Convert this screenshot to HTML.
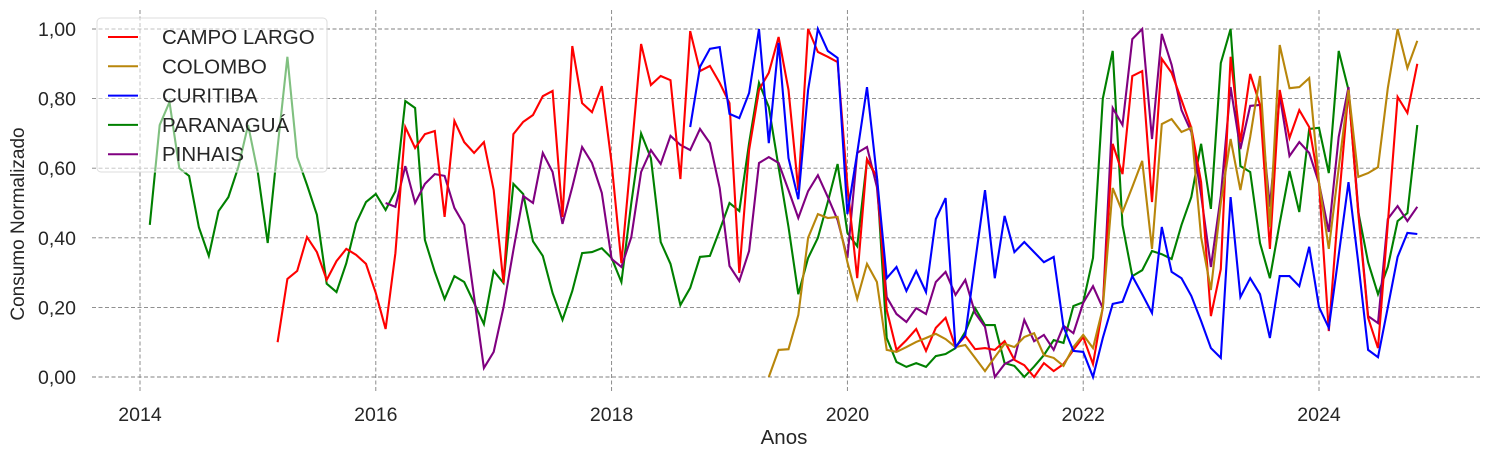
<!DOCTYPE html>
<html><head><meta charset="utf-8"><style>
body{margin:0;background:#fff;font-family:"Liberation Sans",sans-serif}
svg text{font-family:"Liberation Sans",sans-serif;fill:#262626}
</style></head><body>
<svg id="chart" width="1490" height="458" xmlns="http://www.w3.org/2000/svg">
<g id="grid"></g>
<g id="series"></g>
<g id="axes"></g>
<g id="legend"></g>
</svg>
<script>
const yTicks=[0,0.2,0.4,0.6,0.8,1.0];
const yTickLabels=["0,00","0,20","0,40","0,60","0,80","1,00"];
const xTickYears=[2014,2016,2018,2020,2022,2024];
const seriesNames=["CAMPO LARGO","COLOMBO","CURITIBA","PARANAGUÁ","PINHAIS"];
const seriesColors=["#ff0000","#b8860b","#0000ff","#008000","#800080"];
const campoLargoStart=14;
const campoLargo=[0.10,0.282,0.305,0.402,0.359,0.279,0.333,0.368,0.351,0.325,0.241,0.138,0.356,0.718,0.658,0.698,0.707,0.46,0.736,0.675,0.644,0.675,0.537,0.27,0.698,0.733,0.753,0.807,0.822,0.46,0.951,0.787,0.761,0.836,0.615,0.327,0.64,0.957,0.839,0.865,0.853,0.569,0.994,0.879,0.894,0.845,0.787,0.299,0.652,0.825,0.874,0.977,0.825,0.537,1.0,0.934,0.92,0.905,0.55,0.284,0.626,0.575,0.193,0.078,0.106,0.138,0.075,0.141,0.17,0.086,0.118,0.08,0.083,0.078,0.103,0.049,0.034,0,0.04,0.017,0.037,0.078,0.115,0.037,0.2,0.67,0.583,0.865,0.879,0.503,0.914,0.874,0.796,0.716,0.56,0.175,0.31,0.92,0.675,0.871,0.782,0.368,0.825,0.687,0.767,0.718,0.557,0.132,0.5,0.825,0.47,0.17,0.083,0.44,0.805,0.759,0.9];
const colomboStart=64;
const colombo=[0,0.078,0.08,0.178,0.4,0.468,0.457,0.46,0.33,0.224,0.325,0.273,0.078,0.072,0.086,0.101,0.112,0.124,0.109,0.086,0.092,0.055,0.017,0.057,0.095,0.086,0.115,0.126,0.063,0.055,0.032,0.086,0.121,0.083,0.198,0.543,0.474,0.546,0.621,0.368,0.727,0.741,0.704,0.716,0.402,0.25,0.5,0.684,0.537,0.69,0.865,0.431,0.954,0.83,0.833,0.859,0.56,0.368,0.6,0.825,0.575,0.586,0.603,0.83,1.0,0.888,0.966];
const curitibaStart=56;
const curitiba=[0.718,0.891,0.943,0.948,0.756,0.744,0.816,1.0,0.672,0.96,0.629,0.511,0.825,1.0,0.937,0.917,0.468,0.644,0.833,0.575,0.284,0.316,0.247,0.305,0.244,0.454,0.514,0.086,0.121,0.33,0.537,0.284,0.463,0.359,0.388,0.359,0.33,0.345,0.144,0.075,0.072,0,0.112,0.21,0.216,0.29,0.238,0.184,0.431,0.302,0.284,0.233,0.161,0.083,0.055,0.517,0.23,0.284,0.238,0.112,0.29,0.29,0.261,0.374,0.201,0.141,0.35,0.56,0.328,0.078,0.057,0.2,0.345,0.414,0.411];
const paranaguaStart=1;
const paranagua=[0.437,0.724,0.79,0.60,0.578,0.43,0.348,0.477,0.517,0.603,0.724,0.586,0.385,0.66,0.92,0.632,0.552,0.466,0.268,0.244,0.327,0.442,0.503,0.526,0.48,0.534,0.793,0.773,0.394,0.302,0.224,0.29,0.273,0.213,0.152,0.305,0.27,0.555,0.526,0.39,0.348,0.241,0.164,0.247,0.356,0.359,0.37,0.342,0.273,0.5,0.70,0.629,0.388,0.325,0.207,0.256,0.345,0.348,0.422,0.5,0.477,0.672,0.845,0.776,0.603,0.431,0.238,0.342,0.40,0.503,0.612,0.414,0.376,0.624,0.572,0.112,0.043,0.029,0.04,0.029,0.06,0.066,0.083,0.13,0.198,0.149,0.149,0.04,0.032,0,0.03,0.063,0.106,0.098,0.204,0.215,0.342,0.80,0.937,0.437,0.29,0.307,0.362,0.353,0.339,0.437,0.517,0.67,0.483,0.902,1.0,0.606,0.589,0.385,0.284,0.442,0.592,0.474,0.713,0.716,0.586,0.937,0.825,0.474,0.33,0.238,0.316,0.448,0.471,0.724];
const pinhaisStart=25;
const pinhais=[0.5,0.489,0.606,0.5,0.555,0.583,0.578,0.486,0.437,0.23,0.026,0.072,0.2,0.365,0.52,0.5,0.644,0.589,0.44,0.546,0.661,0.615,0.529,0.339,0.316,0.402,0.589,0.652,0.612,0.693,0.667,0.652,0.713,0.672,0.543,0.319,0.276,0.362,0.615,0.632,0.615,0.537,0.457,0.534,0.58,0.517,0.451,0.342,0.644,0.661,0.546,0.23,0.181,0.158,0.198,0.181,0.273,0.302,0.236,0.279,0.184,0.144,0,0.037,0.052,0.164,0.103,0.121,0.078,0.147,0.126,0.213,0.261,0.198,0.773,0.724,0.971,1.0,0.684,0.986,0.897,0.767,0.704,0.523,0.316,0.52,0.833,0.655,0.779,0.782,0.489,0.81,0.635,0.675,0.644,0.557,0.417,0.69,0.833,0.48,0.175,0.155,0.454,0.491,0.448,0.489];

const NS="http://www.w3.org/2000/svg";
const L=92,R=1480,T=10,B=393;
function xScale(m){return 140+m*(1319-140)/120;}
function yScale(v){return 377-v*348;}
function mk(tag,attrs,parent){const e=document.createElementNS(NS,tag);for(const k in attrs)e.setAttribute(k,attrs[k]);parent.appendChild(e);return e;}
const grid=document.getElementById('grid'),axes=document.getElementById('axes'),ser=document.getElementById('series'),leg=document.getElementById('legend');
yTicks.forEach((t,i)=>{
  const y=yScale(t);
  const ln=mk('line',{x1:L,x2:R,y1:y,y2:y,stroke:'#808080','stroke-width':0.9,'stroke-dasharray':'4,2.5'},grid);
  
  
  const tx=mk('text',{x:76,y:y+7,'text-anchor':'end','font-size':19.5},axes);
  tx.textContent=yTickLabels[i];
  
  
});
xTickYears.forEach(yr=>{
  const x=xScale((yr-2014)*12);
  const ln=mk('line',{x1:x,x2:x,y1:T,y2:B,stroke:'#808080','stroke-width':0.9,'stroke-dasharray':'4,2.5'},grid);
  
  
  const tx=mk('text',{x:x,y:421,'text-anchor':'middle','font-size':19.5},axes);
  tx.textContent=yr;
  
  
});
const xt=mk('text',{x:784,y:444,'text-anchor':'middle','font-size':20.5},axes);
xt.textContent='Anos';


const yt=mk('text',{x:0,y:0,'text-anchor':'middle','font-size':19,transform:'translate(24,224) rotate(-90)'},axes);
yt.textContent='Consumo Normalizado';



const all=[[campoLargoStart,campoLargo],[colomboStart,colombo],[curitibaStart,curitiba],[paranaguaStart,paranagua],[pinhaisStart,pinhais]];
const order=[3,4,0,1,2];
order.forEach(si=>{
  const [st,vals]=all[si];
  const pts=vals.map((v,i)=>xScale(st+i).toFixed(1)+','+yScale(v).toFixed(1)).join(' ');
  const pl=mk('polyline',{points:pts,fill:'none',stroke:seriesColors[si],'stroke-width':2.1,'stroke-linejoin':'miter'},ser);
  
  
});
const box=mk('rect',{x:97,y:18,width:230,height:154,rx:4,fill:'rgba(255,255,255,0.5)',stroke:'#dddddd'},leg);


seriesNames.forEach((n,i)=>{
  const y=37+i*29.3;
  const g=mk('g',{},leg);
  
  
  mk('line',{x1:108,x2:138,y1:y,y2:y,stroke:seriesColors[i],'stroke-width':2},g);
  const t=mk('text',{x:162,y:y+7,'font-size':20.5},g);
  t.textContent=n;
});
</script>
</body></html>
